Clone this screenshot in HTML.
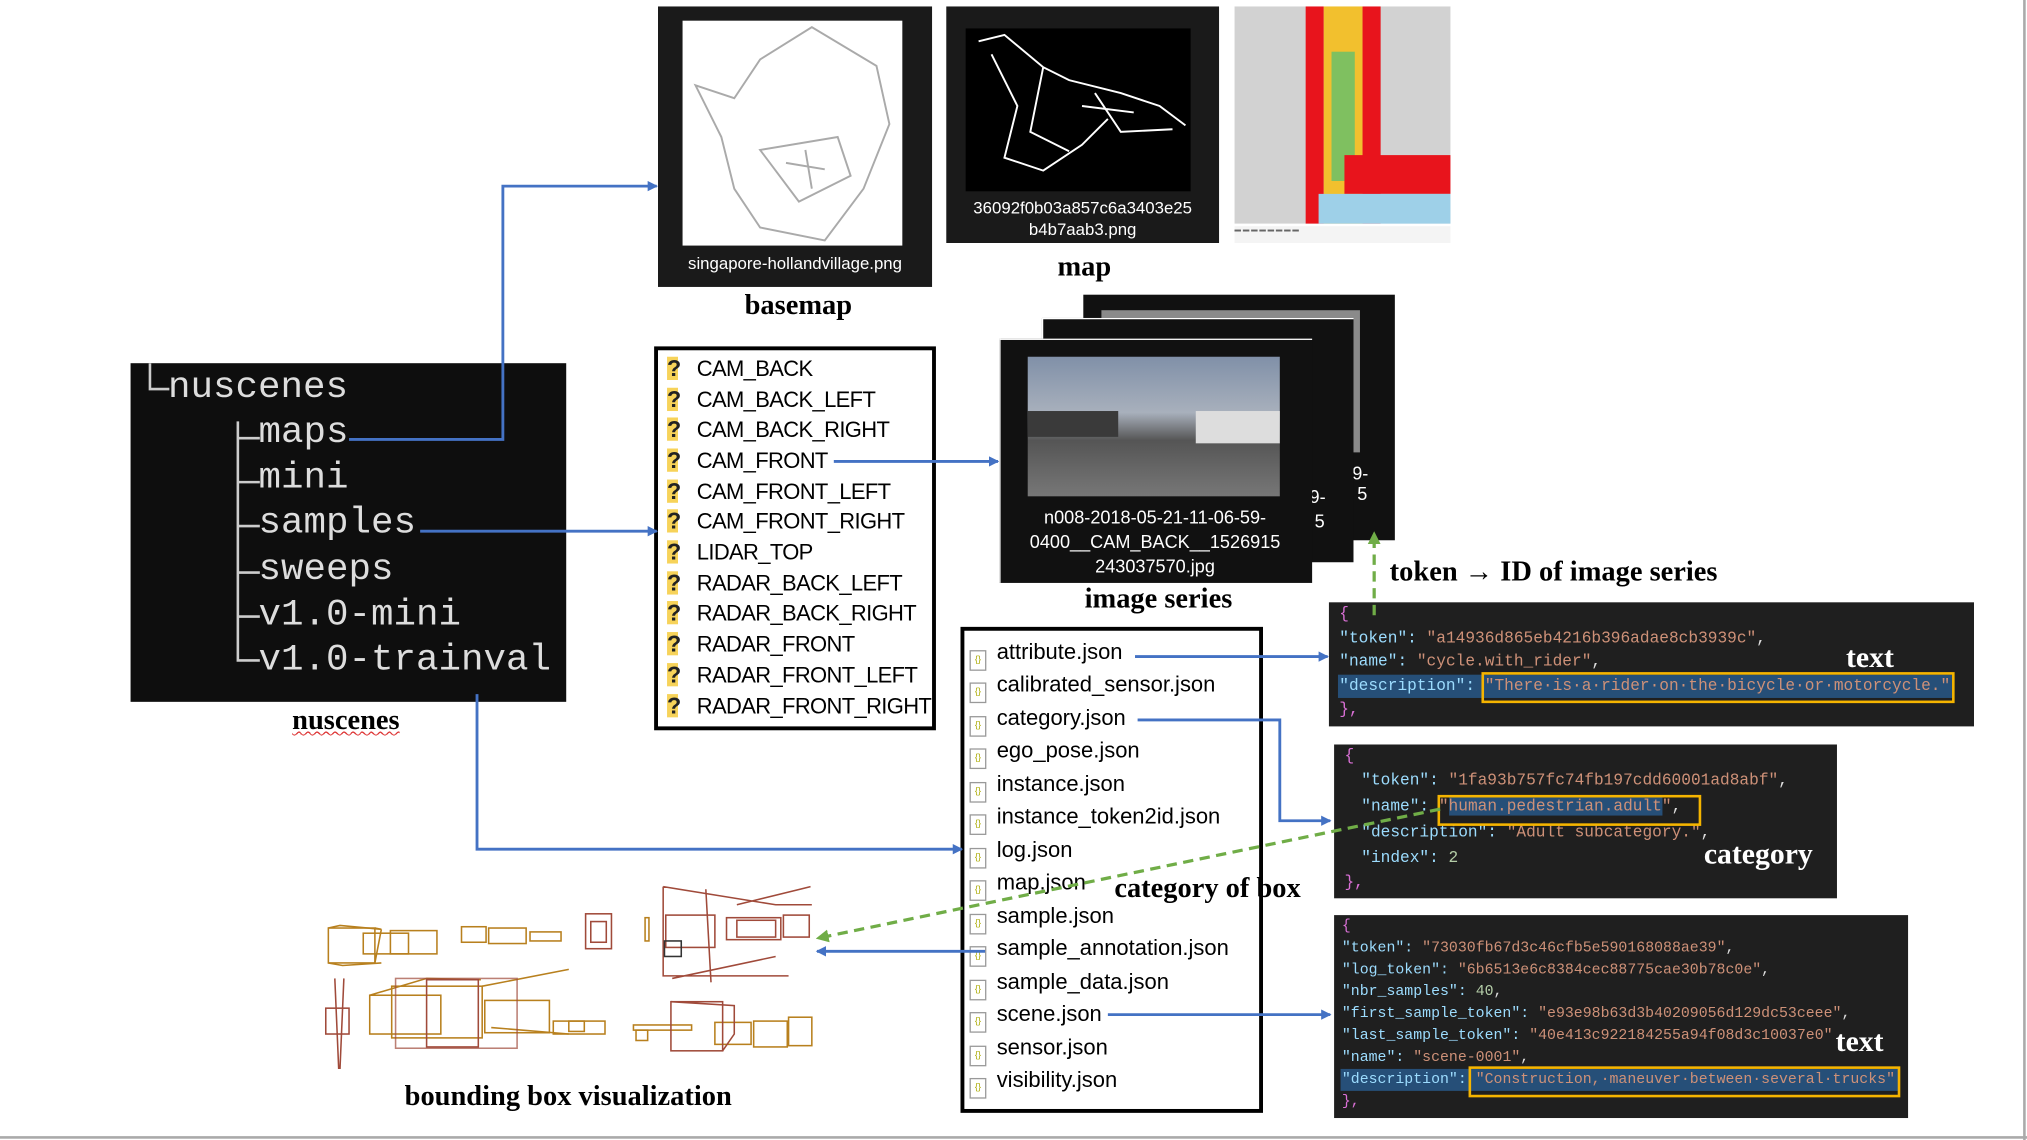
<!DOCTYPE html>
<html><head><meta charset="utf-8"><style>
html,body{margin:0;padding:0;background:#fff;}
body{width:2027px;height:1140px;overflow:hidden;position:relative;}
#s{position:absolute;left:0;top:0;width:1568px;height:882px;transform:scale(1.29273,1.29252);transform-origin:0 0;}
.a{position:absolute;}
.cap{position:absolute;font-family:"Liberation Serif",serif;font-weight:bold;font-size:22px;color:#000;white-space:nowrap;}
.tree{position:absolute;font-family:"Liberation Mono",monospace;color:#ddd;font-size:29px;white-space:nowrap;}
.cam{position:absolute;left:516px;font-family:"Liberation Sans",sans-serif;font-size:17px;color:#000;white-space:nowrap;letter-spacing:-0.5px;}
.q{display:inline-block;width:14px;color:#222;font-weight:bold;background:linear-gradient(90deg,#f7d35a 0 60%,transparent 60%);margin-right:9px;text-align:left;font-size:18px;line-height:18px;}
.f{position:absolute;left:750px;font-family:"Liberation Sans",sans-serif;font-size:17px;color:#000;white-space:nowrap;}
.fi{display:inline-block;width:11px;height:14px;border:1px solid #999;margin-right:8px;vertical-align:-2px;font-size:7px;color:#aa0;text-align:center;line-height:14px;}
.js{position:absolute;background:#1f1f1f;font-family:"Liberation Mono",monospace;font-size:12.5px;color:#9cdcfe;white-space:nowrap;}
.js div{position:absolute;}
.st{color:#ce9178;}.br{color:#da70d6;}.nm{color:#b5cea8;}
.hl{background:#264f78;}
.ob{position:absolute;border:2px solid #f5b400;}
.wt{position:absolute;font-family:"Liberation Serif",serif;font-weight:bold;font-size:23px;color:#fff;}
</style></head><body><div id="s">
<div class="a" style="left:1565px;top:0;width:2px;height:882px;background:#aaa"></div>
<div class="a" style="left:0;top:879px;width:1568px;height:2px;background:#aaa"></div>

<div class="a" style="left:509px;top:5px;width:212px;height:217px;background:#1a1a1a"></div>
<div class="a" style="left:528px;top:16px;width:170px;height:174px;background:#fff"></div>
<svg class="a" style="left:528px;top:16px" width="170" height="174"><path d="M10 50 L40 60 L60 30 L100 5 L150 35 L160 80 L140 130 L110 170 L60 160 L40 130 L30 90 Z M60 100 L120 90 L130 120 L90 140 Z M80 110 L110 115 M95 100 L100 130" fill="none" stroke="#aaa" stroke-width="1.5"/></svg>
<div class="a" style="left:509px;top:196px;width:212px;text-align:center;color:#fff;font:13px 'Liberation Sans',sans-serif">singapore-hollandvillage.png</div>
<div class="cap" style="left:576px;top:223px">basemap</div>

<div class="a" style="left:732px;top:5px;width:211px;height:183px;background:#1a1a1a"></div>
<div class="a" style="left:747px;top:22px;width:174px;height:126px;background:#000"></div>
<svg class="a" style="left:747px;top:22px" width="174" height="126"><path d="M10 10 L30 5 L60 30 L80 40 L120 50 L150 60 L170 75 M20 20 L40 60 L30 100 L60 110 L90 90 L110 70 M60 30 L50 80 L80 95 M100 50 L120 80 L160 78 M90 60 L130 65" fill="none" stroke="#fff" stroke-width="1.5"/></svg>
<div class="a" style="left:732px;top:152px;width:211px;text-align:center;color:#fff;font:13px/17px 'Liberation Sans',sans-serif">36092f0b03a857c6a3403e25<br>b4b7aab3.png</div>
<div class="cap" style="left:818px;top:193px">map</div>

<div class="a" style="left:955px;top:5px;width:167px;height:168px;background:#d2d2d2"></div>
<div class="a" style="left:1010px;top:5px;width:14px;height:168px;background:#e8141c"></div>
<div class="a" style="left:1024px;top:5px;width:30px;height:168px;background:#f2c02e"></div>
<div class="a" style="left:1030px;top:40px;width:18px;height:100px;background:#7fc060"></div>
<div class="a" style="left:1054px;top:5px;width:14px;height:168px;background:#e8141c"></div>
<div class="a" style="left:1040px;top:120px;width:82px;height:30px;background:#e8141c"></div>
<div class="a" style="left:1020px;top:150px;width:102px;height:23px;background:#9ed0e8"></div>
<div class="a" style="left:955px;top:175px;width:167px;height:13px;background:#f4f4f4;font:5px sans-serif;color:#666">▬ ▬ ▬ ▬ ▬ ▬ ▬ ▬</div>

<div class="a" style="left:101px;top:281px;width:337px;height:262px;background:#0e0e0e"></div>
<svg class="a" style="left:101px;top:281px" width="337" height="262"><g stroke="#ccc" stroke-width="2" fill="none"><path d="M15 0 V20 H30"/><path d="M83 45 V230 H100 M83 58 H100 M83 92 H100 M83 126 H100 M83 162 H100 M83 196 H100"/></g></svg>
<div class="tree" style="left:130px;top:283px">nuscenes</div>
<div class="tree" style="left:200px;top:318px">maps</div>
<div class="tree" style="left:200px;top:353px">mini</div>
<div class="tree" style="left:200px;top:388px">samples</div>
<div class="tree" style="left:200px;top:424px">sweeps</div>
<div class="tree" style="left:200px;top:459px">v1.0-mini</div>
<div class="tree" style="left:200px;top:494px">v1.0-trainval</div>
<div class="cap" style="left:226px;top:544px;text-decoration:underline wavy #d33;text-decoration-thickness:1px">nuscenes</div>

<div class="a" style="left:509px;top:271px;width:212px;height:291px;border:3px solid #000;box-sizing:content-box;margin:-3px 0 0 -3px"></div>
<div class="cam" style="top:276px"><span class="q">?</span>CAM_BACK</div>
<div class="cam" style="top:300px"><span class="q">?</span>CAM_BACK_LEFT</div>
<div class="cam" style="top:323px"><span class="q">?</span>CAM_BACK_RIGHT</div>
<div class="cam" style="top:347px"><span class="q">?</span>CAM_FRONT</div>
<div class="cam" style="top:371px"><span class="q">?</span>CAM_FRONT_LEFT</div>
<div class="cam" style="top:394px"><span class="q">?</span>CAM_FRONT_RIGHT</div>
<div class="cam" style="top:418px"><span class="q">?</span>LIDAR_TOP</div>
<div class="cam" style="top:442px"><span class="q">?</span>RADAR_BACK_LEFT</div>
<div class="cam" style="top:465px"><span class="q">?</span>RADAR_BACK_RIGHT</div>
<div class="cam" style="top:489px"><span class="q">?</span>RADAR_FRONT</div>
<div class="cam" style="top:513px"><span class="q">?</span>RADAR_FRONT_LEFT</div>
<div class="cam" style="top:537px"><span class="q">?</span>RADAR_FRONT_RIGHT</div>

<div class="a" style="left:838px;top:228px;width:241px;height:190px;background:#111"></div>
<div class="a" style="left:852px;top:240px;width:200px;height:110px;background:#8a8a8a"></div>
<div class="a" style="left:1046px;top:358px;color:#fff;font:14px 'Liberation Sans',sans-serif">9-<br>&nbsp;5</div>
<div class="a" style="left:806px;top:246px;width:240px;height:188px;background:#111;border-left:1px solid #fff;border-top:1px solid #fff"></div>
<div class="a" style="left:1013px;top:375px;color:#fff;font:14px/19px 'Liberation Sans',sans-serif">9-<br>&nbsp;5</div>
<div class="a" style="left:773px;top:262px;width:241px;height:188px;background:#111;border-left:1px solid #fff;border-top:1px solid #fff"></div>
<div class="a" style="left:795px;top:276px;width:195px;height:108px;background:linear-gradient(#8090a8 0,#a8b0bc 40%,#555 60%,#777 100%)"></div>
<div class="a" style="left:795px;top:318px;width:70px;height:20px;background:#3a3a3a"></div>
<div class="a" style="left:925px;top:318px;width:65px;height:25px;background:#ddd"></div>
<div class="a" style="left:773px;top:391px;width:241px;text-align:center;color:#fff;font:14px/19px 'Liberation Sans',sans-serif">n008-2018-05-21-11-06-59-<br>0400__CAM_BACK__1526915<br>243037570.jpg</div>
<div class="cap" style="left:839px;top:450px">image series</div>
<div class="cap" style="left:1075px;top:429px">token → ID of image series</div>

<div class="a" style="left:743px;top:485px;width:228px;height:370px;border:3px solid #000"></div>
<div class="f" style="top:495px"><span class="fi">{}</span>attribute.json</div>
<div class="f" style="top:520px"><span class="fi">{}</span>calibrated_sensor.json</div>
<div class="f" style="top:546px"><span class="fi">{}</span>category.json</div>
<div class="f" style="top:571px"><span class="fi">{}</span>ego_pose.json</div>
<div class="f" style="top:597px"><span class="fi">{}</span>instance.json</div>
<div class="f" style="top:622px"><span class="fi">{}</span>instance_token2id.json</div>
<div class="f" style="top:648px"><span class="fi">{}</span>log.json</div>
<div class="f" style="top:673px"><span class="fi">{}</span>map.json</div>
<div class="f" style="top:699px"><span class="fi">{}</span>sample.json</div>
<div class="f" style="top:724px"><span class="fi">{}</span>sample_annotation.json</div>
<div class="f" style="top:750px"><span class="fi">{}</span>sample_data.json</div>
<div class="f" style="top:775px"><span class="fi">{}</span>scene.json</div>
<div class="f" style="top:801px"><span class="fi">{}</span>sensor.json</div>
<div class="f" style="top:826px"><span class="fi">{}</span>visibility.json</div>
<div class="cap" style="left:862px;top:674px">category of box</div>

<div class="js" style="left:1028px;top:466px;width:499px;height:96px">
<div class="br" style="left:8px;top:2px">{</div>
<div style="left:8px;top:21px">"token": <span class="st">"a14936d865eb4216b396adae8cb3939c"</span><span style="color:#ddd">,</span></div>
<div style="left:8px;top:39px">"name": <span class="st">"cycle.with_rider"</span><span style="color:#ddd">,</span></div>
<div class="hl" style="left:7px;top:56px;width:475px;height:18px"></div>
<div style="left:8px;top:58px">"description": <span class="st">"There·is·a·rider·on·the·bicycle·or·motorcycle."</span></div>
<div class="br" style="left:8px;top:76px">},</div>
</div>
<div class="ob" style="left:1146px;top:520px;width:362px;height:20px"></div>
<div class="wt" style="left:1428px;top:496px">text</div>

<div class="js" style="left:1032px;top:576px;width:389px;height:119px">
<div class="br" style="left:8px;top:2px">{</div>
<div style="left:21px;top:21px">"token": <span class="st">"1fa93b757fc74fb197cdd60001ad8abf"</span><span style="color:#ddd">,</span></div>
<div style="left:21px;top:41px">"name": <span class="st">"<span class="hl">human.pedestrian.adult</span>"</span><span style="color:#ddd">,</span></div>
<div style="left:21px;top:61px">"description": <span class="st">"Adult subcategory."</span><span style="color:#ddd">,</span></div>
<div style="left:21px;top:81px">"index": <span class="nm">2</span></div>
<div class="br" style="left:8px;top:100px">},</div>
</div>
<div class="ob" style="left:1112px;top:615px;width:200px;height:20px"></div>
<div class="wt" style="left:1318px;top:648px">category</div>

<div class="js" style="left:1032px;top:708px;width:444px;height:157px;font-size:11.5px">
<div class="br" style="left:6px;top:2px">{</div>
<div style="left:6px;top:19px">"token": <span class="st">"73030fb67d3c46cfb5e590168088ae39"</span><span style="color:#ddd">,</span></div>
<div style="left:6px;top:36px">"log_token": <span class="st">"6b6513e6c8384cec88775cae30b78c0e"</span><span style="color:#ddd">,</span></div>
<div style="left:6px;top:53px">"nbr_samples": <span class="nm">40</span><span style="color:#ddd">,</span></div>
<div style="left:6px;top:70px">"first_sample_token": <span class="st">"e93e98b63d3b40209056d129dc53ceee"</span><span style="color:#ddd">,</span></div>
<div style="left:6px;top:87px">"last_sample_token": <span class="st">"40e413c922184255a94f08d3c10037e0"</span></div>
<div style="left:6px;top:104px">"name": <span class="st">"scene-0001"</span><span style="color:#ddd">,</span></div>
<div class="hl" style="left:5px;top:119px;width:432px;height:17px"></div>
<div style="left:6px;top:121px">"description": <span class="st">"Construction,·maneuver·between·several·trucks"</span></div>
<div class="br" style="left:6px;top:138px">},</div>
</div>
<div class="ob" style="left:1136px;top:825px;width:330px;height:20px"></div>
<div class="wt" style="left:1420px;top:793px">text</div>

<svg class="a" style="left:0;top:0" width="1568" height="882" fill="none" stroke-width="1.2">
<g stroke="#b8801e">
<rect x="254" y="718" width="36" height="27"/><path d="M254 718 L263 716 L295 719 L290 718 M254 745 L265 747 L295 745 M290 745 L295 719"/>
<rect x="281" y="722" width="35" height="16"/><rect x="302" y="720" width="36" height="18"/>
<rect x="357" y="717" width="19" height="12"/><rect x="378" y="718" width="29" height="12"/><rect x="410" y="721" width="24" height="7"/>
<rect x="286" y="770" width="55" height="30"/><rect x="303" y="763" width="70" height="40"/><path d="M286 770 L330 757 L372 758 M373 763 L440 750 M380 795 L440 800"/>
<rect x="375" y="774" width="50" height="25"/><rect x="428" y="790" width="40" height="10"/><rect x="440" y="790" width="12" height="8"/>
<rect x="490" y="793" width="45" height="4"/><rect x="492" y="797" width="9" height="8"/>
<rect x="553" y="791" width="28" height="17"/><rect x="583" y="790" width="26" height="20"/><rect x="610" y="787" width="18" height="22"/>
<rect x="499" y="710" width="3" height="18"/>
</g>
<g stroke="#a04a3a">
<rect x="453" y="707" width="20" height="27"/><rect x="457" y="713" width="12" height="16"/>
<path d="M513 686 L513 755 L610 755 M513 686 L600 700 L628 700 M546 688 L550 760 M570 700 L627 686 M520 757 L600 740"/>
<rect x="515" y="708" width="38" height="25"/><rect x="562" y="710" width="42" height="17"/><rect x="570" y="712" width="30" height="13"/><rect x="606" y="708" width="20" height="17"/>
<rect x="330" y="758" width="40" height="52"/><rect x="306" y="757" width="94" height="54" stroke-opacity="0.7"/>
<path d="M259 757 L262 827 M266 757 L263 827"/><rect x="252" y="780" width="18" height="20"/>
<rect x="519" y="775" width="40" height="38"/><path d="M519 775 L568 778 L568 800 L559 813"/>
</g>
<g stroke="#333"><rect x="514" y="728" width="13" height="12"/></g>
</svg>
<div class="cap" style="left:313px;top:835px">bounding box visualization</div>

<svg class="a" style="left:0;top:0" width="1568" height="882">
<defs>
<marker id="b" markerWidth="8" markerHeight="8" refX="7" refY="4" orient="auto" markerUnits="userSpaceOnUse"><path d="M0 0 L8 4 L0 8 Z" fill="#4472c4"/></marker>
<marker id="g" markerWidth="10" markerHeight="10" refX="9" refY="5" orient="auto" markerUnits="userSpaceOnUse"><path d="M0 0 L10 5 L0 10 Z" fill="#70ad47"/></marker>
</defs>
<g stroke="#4472c4" stroke-width="2.2" fill="none" marker-end="url(#b)">
<path d="M270 340 H389 V144 H508"/>
<path d="M325 411 H508"/>
<path d="M645 357 H772"/>
<path d="M369 537 V657 H744"/>
<path d="M878 508 H1027"/>
<path d="M880 557 H990 V635 H1029"/>
<path d="M857 785 H1029"/>
<path d="M762 736 H632"/>
</g>
<g stroke="#70ad47" stroke-width="2.5" fill="none" stroke-dasharray="8,5" marker-end="url(#g)">
<path d="M1063 476 V412"/>
<path d="M1114 626 L632 726"/>
</g>
</svg>
</div></body></html>
